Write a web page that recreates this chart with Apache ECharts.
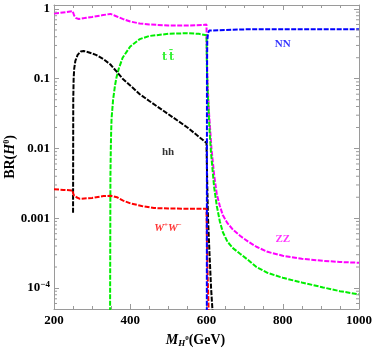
<!DOCTYPE html>
<html><head><meta charset="utf-8">
<script src="https://cdn.jsdelivr.net/npm/echarts@6/dist/echarts.min.js"></script>
<style>html,body{margin:0;padding:0;background:#fff}#c{width:374px;height:349px}</style>
</head><body><div id="c"></div>
<script>
// ---- data ----
const zzM  = [200,230,249,250,253,258,265,280,300,325,348,360,380,400,425,450,500,550,590,600,601,603,607,613,620,627,635,643,655,670,688,710,731,760,800,850,906,950,1000];
const zzBR = [0.86,0.9,0.93,0.9,0.8,0.74,0.72,0.74,0.77,0.81,0.85,0.8,0.72,0.66,0.62,0.6,0.58,0.58,0.59,0.6,0.2,0.08,0.03,0.01,0.0042,0.0022,0.0015,0.0011,0.00085,0.00068,0.00056,0.00046,0.00039,0.00033,0.00029,0.000262,0.000245,0.000236,0.00023];
const ttM  = [346.8,348,349,350,351,355,360,364,370,380,400,425,450,500,550,580,600,601,603,605,608,612,620,627,635,643,655,670,688,710,731,760,800,850,906,950,1000];
const ttBR = [0.00001,0.004,0.01,0.018,0.027,0.05,0.08,0.105,0.14,0.2,0.29,0.37,0.41,0.44,0.45,0.44,0.42,0.15,0.07,0.04,0.018,0.0085,0.0028,0.0015,0.0009,0.00063,0.00046,0.00037,0.00031,0.00025,0.0002,0.000165,0.00014,0.00012,0.000102,0.00009,0.000081];
const hhM  = [250,250.5,251.5,253,256,262,270,278,290,310,330,348,365,380,400,425,450,500,550,600,602,604,608,612,618];
const hhBR = [0.0012,0.05,0.1,0.14,0.18,0.22,0.245,0.25,0.24,0.22,0.19,0.16,0.125,0.1,0.08,0.06,0.048,0.031,0.02,0.012,0.003,0.001,0.0003,0.0001,0.00003];
const wwM  = [200,225,249,250,253,259,268,300,330,349,365,380,401,430,462,500,550,600,601,603,606];
const wwBR = [0.0026,0.00255,0.0025,0.0023,0.0021,0.002,0.0019,0.00195,0.00208,0.0021,0.002,0.0018,0.00163,0.0015,0.00140,0.00138,0.00137,0.00137,0.0005,0.00015,0.00004];
const nnM  = [600.8,601.2,602,604,607,612,700,800,900,1000];
const nnBR = [0.00001,0.1,0.35,0.45,0.49,0.505,0.51,0.51,0.51,0.51];
const seriesNames = ['ZZ','tt','hh','WW','NN'];
// annotations
const labelTexts = ['{t|t}{t|t\u0304}','NN','hh','{w|W}{s|+}{w|W}{s|\u2212}','ZZ'];
const labelM  = [499,800,499,499,800];
const labelBR = [0.205,0.315,0.0089,0.00072,0.0005];
// axes
const xTicks = [200,400,600,800,1000];
const yTickValues = [1,0.1,0.01,0.001,0.0001];
const yTickLabels = ['1','0.1','0.01','0.001','{b|10}{sup|\u22124}'];
const yMin = 5e-5, yMax = 1.14;

// ---- styles ----
const colors = ['#ff00ff','#00ee00','#000000','#ff0000','#0000ff'];
const frame = '#9a9a9a';
const serif = 'Liberation Serif';

const yMinor = [];
for (let e = -5; e <= 0; e++) for (let k = 2; k <= 9; k++) { const v = k * Math.pow(10, e); if (v > yMin && v < yMax) yMinor.push(v); }

const allM = [zzM, ttM, hhM, wwM, nnM], allBR = [zzBR, ttBR, hhBR, wwBR, nnBR];
const lineSeries = allM.map((M, i) => ({
  name: seriesNames[i], type: 'line', showSymbol: false, silent: true, z: i === 4 ? 4 : 3,
  data: M.map((m, j) => [m, allBR[i][j]]),
  lineStyle: { color: colors[i], width: 2, type: [5, 1.5] }
}));
const labelColors = [colors[1], colors[4], colors[2], colors[3], colors[0]];
const labelSeries = {
  type: 'scatter', symbolSize: 0, silent: true, z: 5,
  data: labelTexts.map((t, i) => ({ value: [labelM[i], labelBR[i]], name: t,
    label: { show: true, position: 'inside', formatter: t, color: labelColors[i],
      fontFamily: serif, fontWeight: 'bold', fontSize: 11,
      rich: {
        t: { fontFamily: 'DejaVu Serif', fontWeight: 'bold', fontSize: 11, color: labelColors[i], padding: [0, 1, 0, 1] },
        w: { fontFamily: serif, fontWeight: 'bold', fontStyle: 'italic', fontSize: 11, color: labelColors[i] },
        s: { fontFamily: serif, fontWeight: 'bold', fontSize: 7, color: labelColors[i], padding: [0,0,6,0] }
      } } }))
};
const minorSeries = {
  type: 'custom', silent: true, z: 6, clip: false,
  data: yMinor.map(v => [200, v]),
  renderItem: (params, api) => {
    const v = api.value(1);
    const pl = api.coord([200, v]), pr = api.coord([1000, v]);
    return { type: 'group', children: [
      { type: 'line', shape: { x1: pl[0], y1: pl[1], x2: pl[0] + 3, y2: pl[1] }, style: { stroke: frame, lineWidth: 1 } },
      { type: 'line', shape: { x1: pr[0], y1: pr[1], x2: pr[0] - 3, y2: pr[1] }, style: { stroke: frame, lineWidth: 1 } }
    ] };
  }
};

const xCommon = {
  type: 'value', min: 200, max: 1000, interval: 200,
  axisLine: { show: true, onZero: false, lineStyle: { color: frame, width: 1 } },
  axisTick: { show: true, inside: true, length: 5, lineStyle: { color: frame } },
  minorTick: { show: true, splitNumber: 4, length: 3, lineStyle: { color: frame } },
  splitLine: { show: false }, minorSplitLine: { show: false }
};
const yCommon = {
  type: 'log', logBase: 10, min: yMin, max: yMax,
  axisLine: { show: true, onZero: false, lineStyle: { color: frame, width: 1 } },
  axisTick: { show: true, inside: true, length: 5, lineStyle: { color: frame } },
  splitLine: { show: false }
};

const chart = echarts.init(document.getElementById('c'), null, { renderer: 'canvas' });
chart.setOption({
  animation: false,
  backgroundColor: '#fff',
  grid: { left: 54, right: 15, top: 5, bottom: 40, containLabel: false, outerBoundsMode: 'none' },
  xAxis: [
    Object.assign({}, xCommon, {
      position: 'bottom',
      axisLabel: { show: true, margin: 5, color: '#000', fontFamily: serif, fontWeight: 'bold', fontSize: 13,
        formatter: v => xTicks.includes(v) ? String(v) : '' },
      name: '{m|M}{h|H}{z|0}{g|(GeV)}', nameLocation: 'middle', nameGap: 23, nameMoveOverlap: false,
      nameTextStyle: { padding: [0, 22, 0, 0], rich: {
        m: { fontFamily: serif, fontStyle: 'italic', fontWeight: 'bold', fontSize: 14, color: '#000' },
        h: { fontFamily: serif, fontStyle: 'italic', fontWeight: 'bold', fontSize: 9, color: '#000', padding: [7, 0, 0, 0] },
        z: { fontFamily: serif, fontWeight: 'bold', fontSize: 7, color: '#000', padding: [0, 0, 3, 0] },
        g: { fontFamily: serif, fontWeight: 'bold', fontSize: 14, color: '#000' }
      } }
    }),
    Object.assign({}, xCommon, { position: 'top', axisLabel: { show: false } })
  ],
  yAxis: [
    Object.assign({}, yCommon, {
      position: 'left',
      axisLabel: { show: true, margin: 4, color: '#000', fontFamily: serif, fontWeight: 'bold', fontSize: 13,
        showMinLabel: false, showMaxLabel: false,
        formatter: v => { for (let i = 0; i < yTickValues.length; i++) { if (Math.abs(Math.log10(v) - Math.log10(yTickValues[i])) < 1e-6) return yTickLabels[i]; } return ''; },
        rich: { b: { fontFamily: serif, fontWeight: 'bold', fontSize: 13, color: '#000' },
                sup: { fontFamily: serif, fontWeight: 'bold', fontSize: 9, color: '#000', padding: [0, 0, 7, 0] } } },
      name: '{b|BR(}{h|H}{z|0}{b|)}', nameLocation: 'middle', nameGap: 36, nameMoveOverlap: false,
      nameTextStyle: { rich: {
        b: { fontFamily: serif, fontWeight: 'bold', fontSize: 14, color: '#000' },
        h: { fontFamily: serif, fontStyle: 'italic', fontWeight: 'bold', fontSize: 14, color: '#000' },
        z: { fontFamily: serif, fontWeight: 'bold', fontSize: 8, color: '#000', padding: [0, 0, 7, 0] }
      } }
    }),
    Object.assign({}, yCommon, { position: 'right', axisLabel: { show: false } })
  ],
  series: lineSeries.concat([labelSeries, minorSeries])
});
</script></body></html>
